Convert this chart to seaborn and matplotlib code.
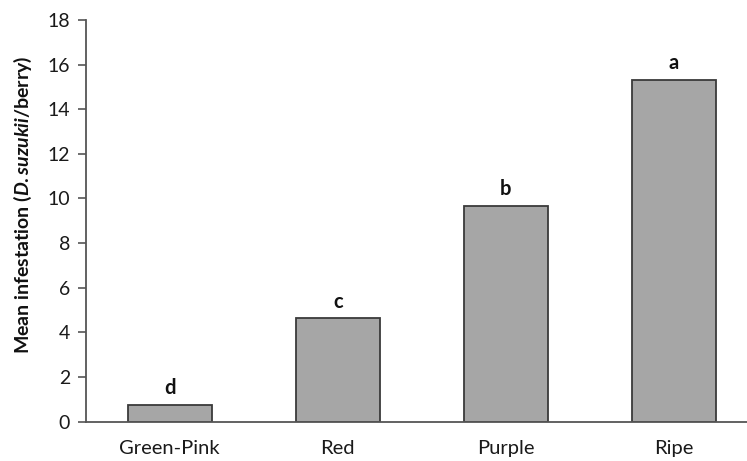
import matplotlib
matplotlib.use("Agg")
import matplotlib.pyplot as plt
import seaborn as sns
import pandas as pd

stages = ["Green-Pink", "Red", "Purple", "Ripe"]
infestation = [0.74, 4.63, 9.66, 15.31]
letters = ["d", "c", "b", "a"]
yticks = [0, 2, 4, 6, 8, 10, 12, 14, 16, 18]

sns.set_style("white")
plt.rcParams["font.family"] = ["Lato", "DejaVu Sans"]
plt.rcParams["mathtext.fontset"] = "custom"
plt.rcParams["mathtext.rm"] = "Lato:bold"
plt.rcParams["mathtext.bf"] = "Lato:bold"
plt.rcParams["mathtext.it"] = "Lato:bold:italic"

df = pd.DataFrame({"stage": stages, "value": infestation})

fig = plt.figure(figsize=(7.47, 4.61), dpi=100)
ax = fig.add_axes([85.5 / 747, 39.5 / 461, 672.5 / 747, 401.5 / 461])

sns.barplot(data=df, x="stage", y="value", ax=ax, color="#a6a6a6",
            saturation=1, width=0.5, edgecolor="#3a3a3a", linewidth=1.3)

for i, (v, lab) in enumerate(zip(infestation, letters)):
    ax.text(i, v + 0.3, lab, ha="center", va="bottom", fontsize=14.5,
            fontweight="bold", color="#111111")

ax.set_xlim(-0.5, 3.5)
ax.set_ylim(0, 18)
ax.set_yticks(yticks)
ax.set_yticklabels([str(t) for t in yticks], fontsize=14, color="#1a1a1a")
ax.tick_params(axis="y", direction="out", length=6, width=1.2,
               color="#555555", left=True, pad=5)
ax.tick_params(axis="x", length=0, pad=13, labelsize=14.5, labelcolor="#1a1a1a")
ax.set_xlabel("")
ax.set_ylabel(r"Mean infestation ($\mathit{D{.}suzukii}$/berry)",
              fontsize=14, fontweight="bold", color="#111111")
ax.yaxis.set_label_coords(-0.076, 0.54)

for side in ["top", "right"]:
    ax.spines[side].set_visible(False)
for side in ["left", "bottom"]:
    ax.spines[side].set_color("#555555")
    ax.spines[side].set_linewidth(1.3)

fig.savefig("out.png", dpi=100)
